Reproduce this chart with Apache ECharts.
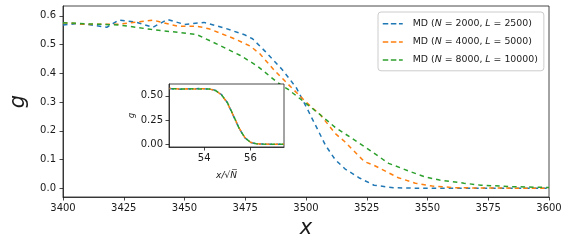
<!DOCTYPE html>
<html>
<head>
<meta charset="utf-8">
<script src="https://cdn.jsdelivr.net/npm/echarts@6/dist/echarts.min.js"></script>
<style>html,body{margin:0;padding:0;background:#fff}#c{width:568px;height:244px}</style>
</head>
<body>
<div id="c"></div>
<script>
// ---- data ----
const seriesNames = ['MD (N = 2000, L = 2500)', 'MD (N = 4000, L = 5000)', 'MD (N = 8000, L = 10000)'];
const colors = ['#1f77b4', '#ff7f0e', '#2ca02c'];

const n2000X = [3400,3405,3410,3418,3423,3430,3437,3443,3450,3458,3467,3475,3478,3483,3490,3493,3496,3500,3504,3508,3512,3516,3522,3528,3536,3550,3600];
const n2000G = [0.568,0.572,0.570,0.560,0.585,0.578,0.560,0.587,0.570,0.577,0.556,0.533,0.520,0.478,0.415,0.383,0.350,0.285,0.218,0.150,0.100,0.068,0.036,0.011,0.002,0.000,0.000];

const n4000X = [3400,3410,3423,3430,3437,3447,3455,3460,3470,3477,3481,3487,3493,3500,3506,3512,3516,3524,3528,3538,3545,3552,3562,3600];
const n4000G = [0.576,0.570,0.571,0.578,0.585,0.564,0.564,0.555,0.522,0.495,0.468,0.410,0.359,0.300,0.255,0.191,0.162,0.093,0.080,0.037,0.018,0.008,0.002,0.000];

const n8000X = [3400,3410,3423,3436,3455,3465,3473,3480,3488,3493,3499,3505,3512,3516,3525,3534,3543,3549,3555,3565,3572,3585,3600];
const n8000G = [0.576,0.572,0.568,0.553,0.535,0.495,0.462,0.425,0.370,0.342,0.302,0.262,0.212,0.190,0.140,0.087,0.058,0.040,0.029,0.018,0.011,0.006,0.003];

const insetX  = [52.5,52.75,53,53.25,53.5,53.75,54,54.25,54.5,54.75,55,55.25,55.5,55.75,56,56.25,56.5,57,57.45];
const insetG1 = [0.575,0.570,0.568,0.574,0.568,0.575,0.572,0.570,0.556,0.512,0.430,0.300,0.168,0.068,0.018,0.004,0.001,0.000,0.000];
const insetG2 = [0.576,0.573,0.570,0.572,0.570,0.572,0.574,0.569,0.554,0.508,0.428,0.302,0.172,0.072,0.020,0.005,0.001,0.000,0.000];
const insetG3 = [0.574,0.572,0.571,0.571,0.572,0.571,0.571,0.570,0.553,0.510,0.432,0.304,0.170,0.070,0.019,0.004,0.001,0.000,0.000];

const mainYTicks = [0, 0.1, 0.2, 0.3, 0.4, 0.5, 0.6];
const insetXTicks = [54, 56];
const insetYTicks = [0, 0.25, 0.5];

// ---- chart ----
const zip = (xs, ys) => xs.map((x, i) => [x, ys[i]]);
const FONT = 'DejaVu Sans';
const INK = '#1a1a1a';

const chart = echarts.init(document.getElementById('c'), null, {renderer: 'canvas'});

const mainLines = [[n2000X, n2000G], [n4000X, n4000G], [n8000X, n8000G]].map((d, i) => ({
  name: seriesNames[i], type: 'line', xAxisIndex: 0, yAxisIndex: 0,
  data: zip(d[0], d[1]), showSymbol: false, z: 2,
  lineStyle: {color: colors[i], width: 1.5, type: [4.5, 4], cap: 'butt'}, itemStyle: {color: colors[i]}
}));
const insetLines = [insetG1, insetG2, insetG3].map((g, i) => ({
  name: 'inset' + i, type: 'line', xAxisIndex: 1, yAxisIndex: 1,
  data: zip(insetX, g), showSymbol: false, z: 12,
  lineStyle: {color: colors[i], width: 1.5, type: [4.5, 4], dashOffset: i * 3, cap: 'butt'}, itemStyle: {color: colors[i]}
}));

const tickStyle = {show: true, length: 3.5, lineStyle: {color: INK, width: 0.8}};
const lineStyle = {show: true, onZero: false, lineStyle: {color: INK, width: 0.8}};
const lbl = {color: INK, fontFamily: FONT, fontSize: 10};

chart.setOption({
  animation: false,
  grid: [
    {left: 53, right: 19, top: 6, bottom: 47, show: true, borderColor: INK, borderWidth: 0.8, backgroundColor: '#fff', z: 0},
    {left: 169, width: 115, top: 84, height: 63, show: true, borderColor: INK, borderWidth: 0.8, backgroundColor: '#fff', z: 10}
  ],
  legend: {
    data: seriesNames, orient: 'vertical', left: 378, top: 12,
    backgroundColor: 'rgba(255,255,255,0.8)', borderColor: '#cccccc', borderWidth: 1, borderRadius: 3,
    padding: [6, 6, 5, 4], itemWidth: 20, itemHeight: 12, itemGap: 6.5,
    itemStyle: {opacity: 0},
    lineStyle: {width: 1.5, type: [5.5, 2.6]},
    textStyle: {color: INK, fontFamily: FONT, fontSize: 9.4, padding: [0, 0, 0, 5], rich: {i: {fontStyle: 'italic', fontFamily: FONT, fontSize: 9.4, color: INK}}},
    formatter: name => name.replace(/([NL])(?= =)/g, '{i|$1}'),
    z: 20
  },
  xAxis: [
    {type: 'value', gridIndex: 0, min: 3400, max: 3600, interval: 25,
     axisLine: lineStyle, axisTick: tickStyle, splitLine: {show: false},
     axisLabel: Object.assign({margin: 6, formatter: v => String(v)}, lbl),
     name: 'x', nameLocation: 'middle', nameGap: 21,
     nameTextStyle: {fontFamily: FONT, fontSize: 21, fontStyle: 'italic', color: INK}},
    {type: 'value', gridIndex: 1, min: 52.48, max: 57.45, z: 12,
     axisLine: lineStyle, splitLine: {show: false},
     axisTick: Object.assign({customValues: insetXTicks}, tickStyle),
     axisLabel: Object.assign({margin: 6, customValues: insetXTicks, formatter: v => String(v)}, lbl),
     name: 'x/√N\u0305', nameLocation: 'middle', nameGap: 24,
     nameTextStyle: {fontFamily: FONT, fontSize: 9, fontStyle: 'italic', color: INK}}
  ],
  yAxis: [
    {type: 'value', gridIndex: 0, min: -0.03, max: 0.634,
     axisLine: lineStyle, splitLine: {show: false},
     axisTick: Object.assign({customValues: mainYTicks}, tickStyle),
     axisLabel: Object.assign({margin: 7, customValues: mainYTicks, formatter: v => v.toFixed(1)}, lbl),
     name: 'g', nameLocation: 'middle', nameGap: 34,
     nameTextStyle: {fontFamily: FONT, fontSize: 21, fontStyle: 'italic', color: INK}},
    {type: 'value', gridIndex: 1, min: -0.029, max: 0.622, z: 12,
     axisLine: lineStyle, splitLine: {show: false},
     axisTick: Object.assign({customValues: insetYTicks}, tickStyle),
     axisLabel: Object.assign({margin: 6, customValues: insetYTicks, formatter: v => v.toFixed(2)}, lbl),
     name: 'g', nameLocation: 'middle', nameGap: 33,
     nameTextStyle: {fontFamily: FONT, fontSize: 8, fontStyle: 'italic', color: INK}}
  ],
  series: mainLines.concat(insetLines)
});
</script>
</body>
</html>
